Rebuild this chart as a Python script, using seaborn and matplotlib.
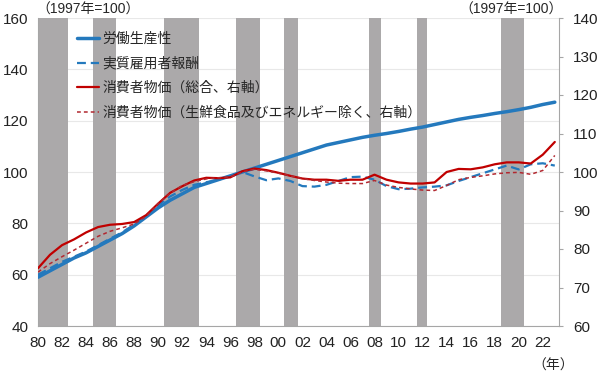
import numpy as np
import pandas as pd
import matplotlib
matplotlib.use("Agg")
import matplotlib.pyplot as plt
import seaborn as sns

# --------------------------------------------------------------
# Data (1997 = 100)
# --------------------------------------------------------------

years = list(range(1980, 2024))

productivity = [59, 61.5, 64, 66.5, 68.5, 71, 73.5, 76, 79, 82.5,
                86, 89, 91.5, 94, 95.5, 97, 98.5, 100, 101.5, 103,
                104.5, 106, 107.5, 109, 110.5, 111.5, 112.5, 113.5, 114.3, 115,
                115.8, 116.7, 117.5, 118.5, 119.5, 120.5, 121.3, 122, 122.8, 123.5,
                124.3, 125.2, 126.3, 127.2]

real_comp = [60, 62.5, 65, 67, 69, 71.5, 74, 76.5, 79.5, 83,
             87, 90.5, 93, 95, 96, 97, 98.5, 100, 98.3, 96.8,
             97.5, 96.5, 94.5, 94.3, 95, 96.5, 98, 98.2, 97, 94.5,
             93.3, 93.5, 94, 94.3, 94.8, 96.5, 98, 99.5, 101, 102.5,
             101, 103, 103.4, 102.5]

cpi_all = [75, 78.5, 81, 82.5, 84.3, 85.7, 86.3, 86.5, 87, 88.8,
           91.8, 94.6, 96.3, 97.8, 98.5, 98.4, 98.6, 100.2, 100.9, 100.5,
           99.8, 99, 98.3, 98, 98, 97.7, 98, 98, 99.3, 98,
           97.3, 97, 97, 97.3, 100, 100.8, 100.7, 101.2, 102, 102.5,
           102.5, 102.2, 104.5, 107.8]

cpi_core = [74, 76.2, 78, 79.7, 81.5, 83.3, 84.6, 85.5, 86.5, 88.5,
            91.8, 94.5, 96.5, 97.5, 98.2, 98.5, 98.7, 100, 100.7, 100.3,
            99.7, 99, 98.3, 97.8, 97.4, 97.1, 97, 97, 97.8, 96.6,
            96, 95.6, 95.3, 95.2, 96.5, 98, 98.6, 99, 99.5, 99.8,
            99.9, 99.4, 100.4, 104.3]

# recession periods (shaded)
recessions = [(1980.0, 1982.5), (1984.6, 1986.5), (1990.5, 1993.4),
              (1996.5, 1998.5), (2000.5, 2001.6), (2007.5, 2008.5),
              (2011.5, 2012.4), (2018.5, 2020.4)]

labels = ["労働生産性", "実質雇用者報酬", "消費者物価（総合、右軸）",
          "消費者物価（生鮮食品及びエネルギー除く、右軸）"]

df = pd.DataFrame({"year": years, "prod": productivity, "comp": real_comp,
                   "cpi": cpi_all, "core": cpi_core})

# --------------------------------------------------------------
# Style
# --------------------------------------------------------------

sns.set_style("white")
plt.rcParams["font.family"] = ["Liberation Sans", "Noto Sans CJK JP", "DejaVu Sans"]

blue = "#2479bd"
red = "#c00000"
red_d = "#b22830"
axis_gray = "#a6a6a6"

fig = plt.figure(figsize=(6, 3.8), dpi=100)
ax = fig.add_axes([38 / 600, 54 / 380, 521 / 600, 308 / 380])
ax2 = ax.twinx()

# --------------------------------------------------------------
# Shading + grid
# --------------------------------------------------------------

for start, end in recessions:
    ax.axvspan(start, end, color="#aba9aa", lw=0, zorder=1)

ax.set_axisbelow(True)
ax.yaxis.grid(True, color="#e8e8e8", lw=0.8)

# --------------------------------------------------------------
# Lines
# --------------------------------------------------------------

sns.lineplot(data=df, x="year", y="comp", ax=ax, color=blue, lw=1.6,
             label=labels[1], zorder=3)
ax.lines[-1].set_dashes([4, 2.2])
sns.lineplot(data=df, x="year", y="prod", ax=ax, color=blue, lw=2.5,
             label=labels[0], zorder=4)

sns.lineplot(data=df, x="year", y="cpi", ax=ax2, color=red, lw=1.6,
             label=labels[2], zorder=3)
sns.lineplot(data=df, x="year", y="core", ax=ax2, color=red_d, lw=1.1,
             label=labels[3], zorder=3)
ax2.lines[-1].set_dashes([2.5, 2])

# --------------------------------------------------------------
# Axes
# --------------------------------------------------------------

ax.set_xlim(1980, 2023.35)
ax.set_ylim(40, 160)
ax2.set_ylim(60, 140)

xt = list(range(1980, 2023, 2))
ax.set_xticks(xt)
ax.set_xticklabels([f"{y % 100:02d}" for y in xt])
ax.set_yticks(range(40, 161, 20))
ax2.set_yticks(range(60, 141, 10))

ax.set_xlabel("")
ax.set_ylabel("")
ax2.set_ylabel("")

ax.tick_params(axis="both", labelsize=11, length=0, pad=7, colors="#222222")
ax2.tick_params(axis="y", labelsize=11, length=3, pad=7, colors="#222222")
ax2.tick_params(axis="y", color=axis_gray)

for a in (ax, ax2):
    a.spines["top"].set_visible(False)
    for s in ("left", "right", "bottom"):
        a.spines[s].set_color(axis_gray)
ax.spines["right"].set_visible(False)
ax2.spines["left"].set_visible(False)
ax2.spines["bottom"].set_visible(False)

# legend
h1, l1 = ax.get_legend_handles_labels()
h2, l2 = ax2.get_legend_handles_labels()
ax.get_legend().remove()
ax2.get_legend().remove()
handles = [h1[1], h1[0], h2[0], h2[1]]
ax2.legend(handles, labels, loc="upper left", bbox_to_anchor=(0.075, 0.955),
           frameon=False, fontsize=10, handlelength=1.6, handletextpad=0.2,
           labelspacing=0.76, borderpad=0, borderaxespad=0)

# annotations
fig.text(36 / 600, 1 - 10 / 380, "（1997年=100）", fontsize=10, va="center", ha="left")
fig.text(563 / 600, 1 - 10 / 380, "（1997年=100）", fontsize=10, va="center", ha="right")
fig.text(574 / 600, 1 - 366 / 380, "（年）", fontsize=10, va="center", ha="right")

plt.savefig("out.png", dpi=100)
